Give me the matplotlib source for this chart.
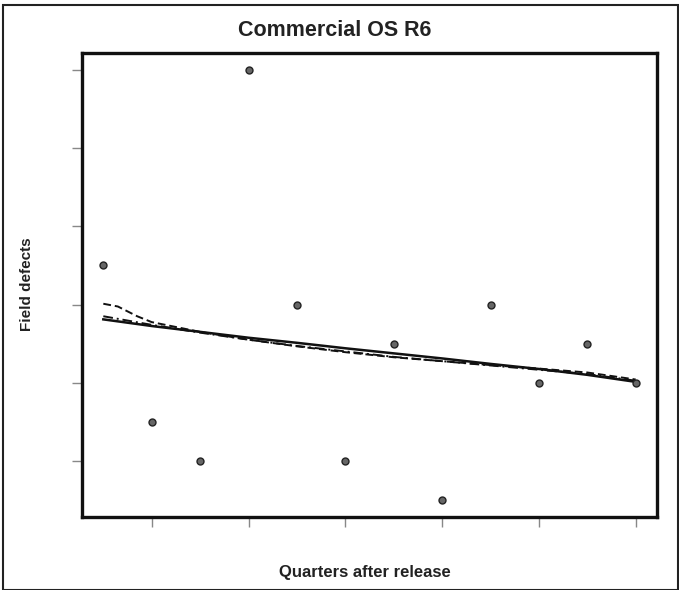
import matplotlib
matplotlib.use("Agg")
import matplotlib.pyplot as plt
from matplotlib.patches import Rectangle

quarters = [1, 2, 3, 4, 5, 6, 7, 8, 9, 10, 11, 12]
defects = [7, 3, 2, 12, 6, 2, 5, 1, 6, 4, 5, 4]

fit_solid = [5.62, 5.45, 5.30, 5.15, 5.02, 4.88, 4.75, 4.62, 4.48, 4.35, 4.20, 4.02]
fit_dash_x = [1, 1.3, 1.7, 2, 3, 4, 5, 6, 7, 8, 9, 10, 11, 12]
fit_dash = [6.02, 5.95, 5.70, 5.55, 5.30, 5.10, 4.93, 4.78, 4.65, 4.55, 4.45, 4.36, 4.26, 4.08]
fit_dashdot = [5.70, 5.48, 5.28, 5.10, 4.94, 4.80, 4.66, 4.55, 4.44, 4.33, 4.22, 4.05]

xticks = [2, 4, 6, 8, 10, 12]
yticks = [2, 4, 6, 8, 10, 12]

plt.rcParams['font.family'] = ['Liberation Sans', 'DejaVu Sans']
fig = plt.figure(figsize=(6.79, 5.90), dpi=100)
fig.patch.set_facecolor('white')
ax = fig.add_axes([0.1208, 0.1237, 0.8468, 0.7865])

ax.plot(quarters, fit_solid, color='#111111', lw=1.8, ls='-', zorder=3)
ax.plot(fit_dash_x, fit_dash, color='#111111', lw=1.4, ls=(0, (4, 2)), zorder=3)
ax.plot(quarters, fit_dashdot, color='#111111', lw=1.4, ls=(0, (5, 2, 1, 2)), zorder=3)
ax.plot(quarters, defects, ls='none', marker='o', ms=5, mfc='#666666', mec='#222222', mew=1.0, zorder=4)

ax.set_xlim(0.56, 12.44)
ax.set_ylim(0.56, 12.44)
ax.set_xticks(xticks)
ax.set_yticks(yticks)
ax.set_xticklabels([])
ax.set_yticklabels([])
ax.tick_params(direction='out', length=7, width=1, color='#888888')
for s in ax.spines.values():
    s.set_linewidth(2.4)
    s.set_color('#111111')

fig.text(335 / 679, 1 - 31 / 590, 'Commercial OS R6', ha='center', va='center',
         fontsize=15.5, fontweight='bold', color='#222222')
fig.text(365 / 679, 1 - 572 / 590, 'Quarters after release', ha='center', va='center',
         fontsize=12, fontweight='bold', color='#222222')
fig.text(27 / 679, 1 - 284 / 590, 'Field defects', ha='center', va='center', rotation=90,
         fontsize=11, fontweight='bold', color='#222222')

fig.patches.append(Rectangle((3 / 679, 0.0), 675 / 679, 1 - 5 / 590, transform=fig.transFigure,
                             fill=False, lw=1.5, ec='#222222'))

fig.savefig('out.png', dpi=100)
